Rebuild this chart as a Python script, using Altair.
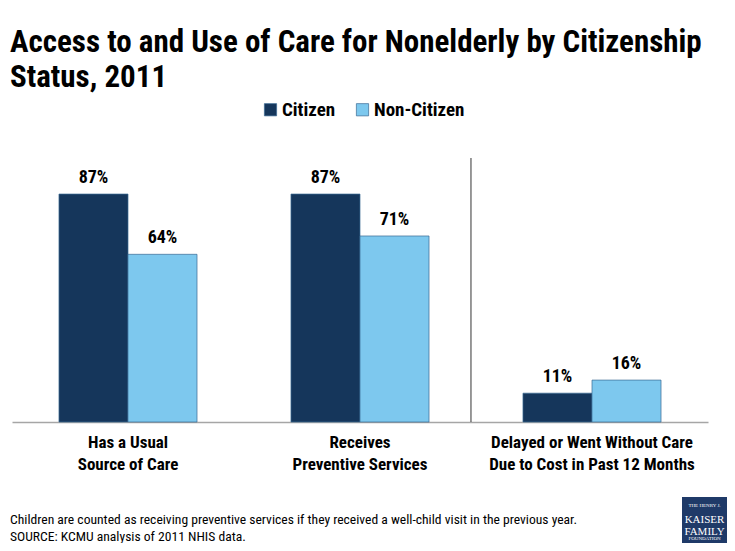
import altair as alt
import pandas as pd

categories = ["Has a Usual|Source of Care", "Receives|Preventive Services",
              "Delayed or Went Without Care|Due to Cost in Past 12 Months"]
series = ["Citizen", "Non-Citizen"]
citizen = [87, 87, 11]
non_citizen = [64, 71, 16]
colors = ["#15365b", "#7dc8ee"]

title_lines = ["Access to and Use of Care for Nonelderly by Citizenship", "Status, 2011"]
note_lines = ["Children are counted as receiving preventive services if they received a well-child visit in the previous year.",
              "SOURCE: KCMU analysis of 2011 NHIS data."]

rows = []
for i, c in enumerate(categories):
    rows.append({"category": c, "series": series[0], "value": citizen[i]})
    rows.append({"category": c, "series": series[1], "value": non_citizen[i]})
df = pd.DataFrame(rows)

FONT = "Roboto Condensed, Liberation Sans Narrow, DejaVu Sans Condensed, Open Sans, sans-serif"

xenc = alt.X("category:N", sort=categories,
             scale=alt.Scale(paddingInner=0.405, paddingOuter=0.2025),
             axis=alt.Axis(title=None, labelExpr="split(datum.label, '|')",
                           labelAngle=0, labelFont=FONT, labelFontSize=17,
                           labelFontWeight="bold", labelColor="#000",
                           labelLineHeight=22, labelPadding=12, ticks=False,
                           domainColor="#a6a6a6", domainWidth=1.5,
                           labelBaseline="top", labelLimit=0))
xoff = alt.XOffset("series:N", sort=series, scale=alt.Scale(paddingInner=0, paddingOuter=0))
yenc = alt.Y("value:Q", scale=alt.Scale(domain=[0, 100]), axis=None)

bars = alt.Chart(df).mark_bar(stroke="#3b6a94", strokeWidth=0.7).encode(
    x=xenc, xOffset=xoff, y=yenc,
    color=alt.Color("series:N", sort=series,
                    scale=alt.Scale(domain=series, range=colors),
                    legend=alt.Legend(title=None, orient="none", direction="horizontal",
                                      legendX=249, legendY=-60, symbolType="square",
                                      symbolSize=150, symbolStrokeColor="#3b6a94",
                                      symbolStrokeWidth=0.7, symbolOpacity=1,
                                      labelFont=FONT, labelFontSize=19,
                                      labelFontWeight="bold", labelColor="#000",
                                      columnPadding=17, labelOffset=2))
)

labels = alt.Chart(df).transform_calculate(
    label="datum.value + '%'"
).mark_text(font=FONT, fontSize=18, fontWeight="bold",
            baseline="bottom", dy=-7, color="#000").encode(
    x=xenc, xOffset=xoff, y=yenc, text="label:N")

sep = alt.Chart(pd.DataFrame({"category": [categories[2]]})).mark_rule(
    color="#333333", strokeWidth=1, xOffset=-52).encode(
    x=alt.X("category:N", sort=categories, bandPosition=0),
    y=alt.value(-2), y2=alt.value(262))

note = alt.Chart(pd.DataFrame({"a": [0]})).mark_text(
    text=note_lines, font=FONT, fontSize=13.6, align="left", baseline="middle",
    lineHeight=17, color="#000").encode(x=alt.value(-2), y=alt.value(360))

logo_box = alt.Chart(pd.DataFrame({"a": [0]})).mark_rect(color="#1f3a68").encode(
    x=alt.value(670), x2=alt.value(715), y=alt.value(337), y2=alt.value(386))
logo_text = alt.Chart(pd.DataFrame({"a": [0]})).mark_text(
    text=["KAISER", "FAMILY"], font="Liberation Serif, serif", fontSize=11,
    lineHeight=12, color="white", align="center", baseline="middle").encode(
    x=alt.value(692.5), y=alt.value(360))
logo_small = alt.Chart(pd.DataFrame({"a": [0]})).mark_text(
    text="THE HENRY J.", font="Liberation Serif, serif", fontSize=5,
    color="white", align="center", baseline="middle").encode(
    x=alt.value(692.5), y=alt.value(345))
logo_small2 = alt.Chart(pd.DataFrame({"a": [0]})).mark_text(
    text="FOUNDATION", font="Liberation Serif, serif", fontSize=5,
    color="white", align="center", baseline="middle").encode(
    x=alt.value(692.5), y=alt.value(378))

chart = alt.layer(bars, labels, sep, note, logo_box, logo_text, logo_small, logo_small2).properties(
    width=696, height=262,
    background="white",
    autosize=alt.AutoSizeParams(type="none"),
    padding={"left": 4, "top": 152, "right": 19, "bottom": 121},
    title=alt.TitleParams(text=title_lines, anchor="start", frame="group",
                          font=FONT, fontSize=31, fontWeight="bold",
                          color="#000", lineHeight=35, offset=6, dx=-2),
).configure_view(stroke=None, strokeWidth=0)

chart.save("out.html", embed_options={"renderer": "svg", "actions": False})
